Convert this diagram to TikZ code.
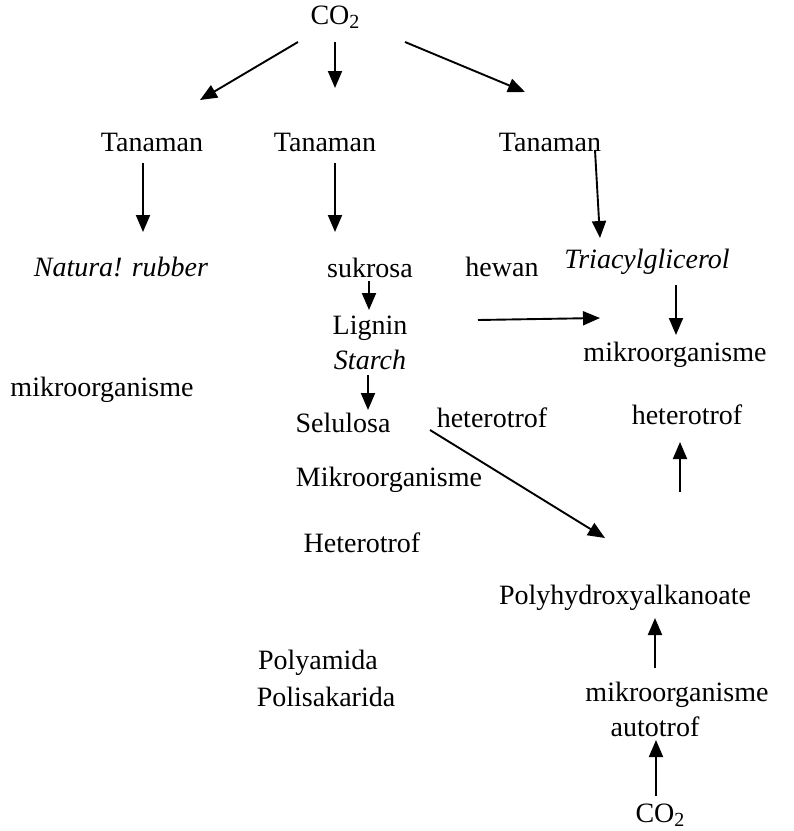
\documentclass[tikz,border=0pt]{standalone}
\usepackage{fontspec}
\setmainfont{Liberation Serif}
\usetikzlibrary{arrows.meta,calc}
\newcommand{\cotwo}{CO\raisebox{-0.35ex}{\fontsize{20}{20}\selectfont 2}}

\begin{document}
\begin{tikzpicture}[x=1pt,y=-1pt,
  every node/.style={font=\fontsize{28}{33}\selectfont,inner sep=1pt},
  arr/.style={line width=1.9pt,-{Triangle[length=17pt,width=14pt]}}]
\useasboundingbox[fill=white] (0,0) rectangle (794,831);
% nodes
\node (co2)  at (335,17)  {\cotwo};
\node (tan1) at (152,142) {Tanaman};
\node (tan2) at (325,142) {Tanaman};
\node (tan3) at (550,142) {Tanaman};
\node (rub)  at (121,267) {\textit{Natura! rubber}};
\node (suk)  at (370,268) {sukrosa};
\node (hew)  at (502,267) {hewan};
\node (tri)  at (647,262) {\textit{Triacylglicerol}};
\node (lig)  at (370,328) {Lignin};
\node (sta)  at (370,360) {\textit{Starch}};
\node (mik2) at (675,355) {mikroorganisme};
\node (mik1) at (102,390) {mikroorganisme};
\node (sel)  at (343,423) {Selulosa};
\node (het1) at (492,418) {heterotrof};
\node (het2) at (687,415) {heterotrof};
\node (mik4) at (389,480) {Mikroorganisme};
\node (het3) at (362,543) {Heterotrof};
\node (pha)  at (625,598) {Polyhydroxyalkanoate};
\node (pam)  at (318,663) {Polyamida};
\node (psk)  at (326,697) {Polisakarida};
\node (mik3) at (677,695) {mikroorganisme};
\node (auto) at (655,727) {autotrof};
\node (co2b) at (660,815) {\cotwo};
\coordinate (up1) at (680,492);
% arrows
\draw[arr] ($(co2)+(-37,25)$) -- ($(tan1)+(48,-42)$);
\draw[arr] ($(co2)+(0,25)$) -- ($(tan2)+(10,-54)$);
\draw[arr] ($(co2)+(70,25)$) -- ($(tan3)+(-25,-50)$);
\draw[arr] ($(tan1)+(-9,21)$) -- ($(rub)+(22,-35)$);
\draw[arr] ($(tan2)+(10,21)$) -- ($(suk)+(-35,-36)$);
\draw[arr] ($(tan3)+(45,8)$) -- ($(tri)+(-47,-24)$);
\draw[arr] ($(suk)+(-1,13)$) -- ($(lig)+(-1,-18)$);
\draw[arr] ($(sta)+(-2,15)$) -- ($(sel)+(25,-13)$);
\draw[arr] ($(lig)+(108,-8)$) -- ($(mik2)+(-75,-37)$);
\draw[arr] ($(tri)+(29,23)$) -- ($(mik2)+(1,-20)$);
\draw[arr] (up1) -- ($(het2)+(-7,27)$);
\draw[arr] ($(het1)+(-62,12)$) -- ($(pha)+(-20,-60)$);
\draw[arr] ($(mik3)+(-22,-27)$) -- ($(pha)+(30,20)$);
\draw[arr] ($(co2b)+(-4,-19)$) -- ($(auto)+(1,13)$);
\end{tikzpicture}
\end{document}
